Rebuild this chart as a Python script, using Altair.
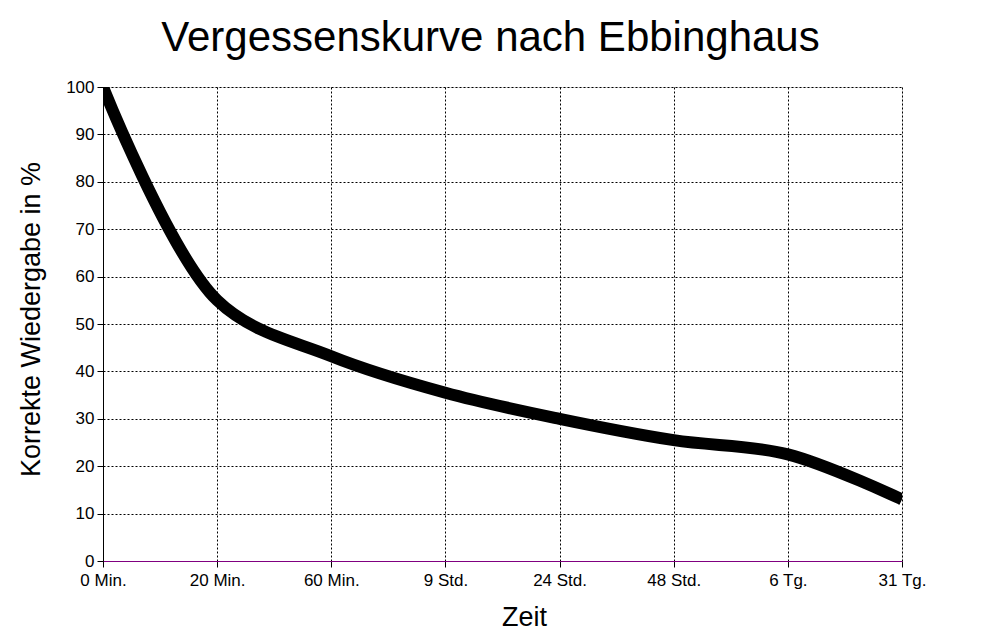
import altair as alt
import pandas as pd

zeit = ["0 Min.", "20 Min.", "60 Min.", "9 Std.", "24 Std.", "48 Std.", "6 Tg.", "31 Tg."]
werte = [100, 55, 43.2, 35.5, 30, 25.5, 22.5, 13]

df = pd.DataFrame({"Zeit": zeit, "Wert": werte})

FONT = "Liberation Sans"

chart = alt.Chart(df).mark_line(
    color="black", strokeWidth=12, interpolate="catmull-rom", clip=True
).encode(
    x=alt.X("Zeit:N", sort=zeit,
            scale=alt.Scale(type="point", padding=0),
            axis=alt.Axis(title="Zeit", labelAngle=0, grid=True,
                          gridColor="black", gridDash=[2, 2], gridWidth=1,
                          domainColor="#800080", domainWidth=1,
                          tickColor="black", tickSize=6, labelPadding=5,
                          labelFontSize=17, labelFont=FONT, labelColor="black",
                          titleFontSize=27, titleFont=FONT, titleFontWeight="normal",
                          titleColor="black", titleBaseline="alphabetic",
                          titleX=421, titleY=64, titleAnchor="middle")),
    y=alt.Y("Wert:Q",
            scale=alt.Scale(domain=[0, 100], nice=False),
            axis=alt.Axis(title="Korrekte Wiedergabe in %",
                          values=list(range(0, 101, 10)), grid=True,
                          gridColor="black", gridDash=[2, 2], gridWidth=1,
                          domainColor="black", domainWidth=1,
                          tickColor="black", tickSize=6, labelPadding=3,
                          labelFontSize=17, labelFont=FONT, labelColor="black",
                          titleFontSize=27, titleFont=FONT, titleFontWeight="normal",
                          titleColor="black", titleAngle=270, titleBaseline="middle",
                          titleX=-72, titleY=232, titleAnchor="middle")),
).properties(
    width=799, height=474,
    title=alt.TitleParams("Vergessenskurve nach Ebbinghaus", fontSize=42, font=FONT,
                          fontWeight="normal", color="black", anchor="middle",
                          offset=18, dx=-12),
    autosize=alt.AutoSizeParams(type="none"),
    padding={"left": 95, "top": 79, "right": 60, "bottom": 80},
).configure_view(
    fill="#DEDEDE", stroke=None
).configure(background="white")

chart.save("out.html", embed_options={"renderer": "svg", "actions": False})
